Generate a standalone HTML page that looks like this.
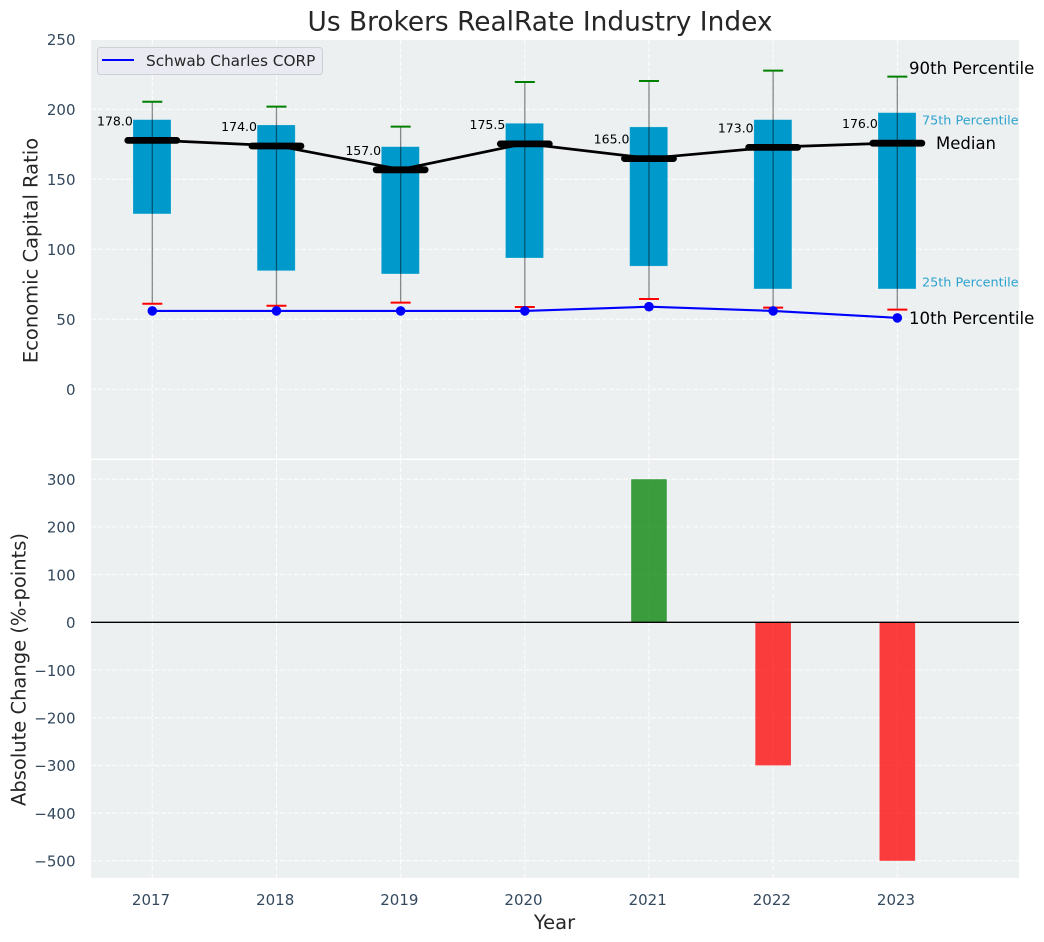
<!DOCTYPE html>
<html lang="en">
<head>
<meta charset="utf-8">
<title>Us Brokers RealRate Industry Index</title>
<style>
html,body{margin:0;padding:0;background:#fff;width:1044px;height:942px;overflow:hidden}
svg{display:block;font-family:"DejaVu Sans","Liberation Sans",sans-serif}
</style>
</head>
<body>
<svg id="chart" xmlns="http://www.w3.org/2000/svg" width="1044" height="942" viewBox="0 0 1044 942">
  <rect x="91" y="40" width="928" height="418.5" fill="#ecf0f1"/>
  <rect x="91" y="460" width="928" height="417.8" fill="#ecf0f1"/>
  <g id="grid"></g>
  <g id="ticks"></g>
  <g id="marks-top"></g>
  <g id="marks-bottom"></g>
  <text x="540" y="30.500" font-size="26.4" fill="#262626" text-anchor="middle">Us Brokers RealRate Industry Index</text>
  <text transform="translate(37.500,250.500) rotate(-90)" font-size="19.5" fill="#262626" text-anchor="middle">Economic Capital Ratio</text>
  <text transform="translate(25.500,669.500) rotate(-90)" font-size="19.5" fill="#262626" text-anchor="middle">Absolute Change (%-points)</text>
  <text x="554.500" y="929" font-size="19.5" fill="#262626" text-anchor="middle">Year</text>
  <text x="909" y="74" font-size="16.6" fill="#000">90th Percentile</text>
  <text x="922" y="124.500" font-size="12.8" fill="#2ea3cf">75th Percentile</text>
  <text x="936" y="149" font-size="16.5" fill="#000">Median</text>
  <text x="922" y="286.500" font-size="12.8" fill="#2ea3cf">25th Percentile</text>
  <text x="909" y="324" font-size="16.6" fill="#000">10th Percentile</text>
  <g>
    <rect x="97.5" y="47.5" width="225" height="27" rx="3" fill="#eaeaf2" stroke="#cfcfd6"/>
    <line x1="102" y1="60" x2="134" y2="60" stroke="#0000ff" stroke-width="2"/>
    <text x="146" y="66" font-size="15.3" fill="#262626">Schwab Charles CORP</text>
  </g>
</svg>
<script>
const years = [2017, 2018, 2019, 2020, 2021, 2022, 2023];
const p10 = [61.1, 59.7, 61.9, 58.8, 64.5, 58.3, 56.9];
const p25 = [125.3, 84.7, 82.4, 93.8, 88, 71.7, 71.7];
const median = [178, 174, 157, 175.5, 165, 173, 176];
const p75 = [192.6, 188.8, 173.3, 190, 187.4, 192.6, 197.6];
const p90 = [205.4, 201.9, 187.6, 219.5, 220.2, 227.6, 223.3];
const company = [56, 56, 56, 56, 59, 56, 51];
const change = [0, 0, 0, 0, 300, -300, -500];
const topTicks = [0, 50, 100, 150, 200, 250];
const bottomTicks = [-500, -400, -300, -200, -100, 0, 100, 200, 300];

const NS = 'http://www.w3.org/2000/svg';
const xPos = function (year) { return 152.3 + (year - 2017) * 124.17; };
const yTop = function (v) { return 389.3 - v * 1.4; };
const yBottom = function (v) { return 622.3 - v * 0.477; };

function make(parent, tag, attrs, text) {
  const el = document.createElementNS(NS, tag);
  for (const k in attrs) el.setAttribute(k, attrs[k]);
  if (text !== undefined) el.textContent = text;
  parent.appendChild(el);
  return el;
}

const grid = document.getElementById('grid');
const ticks = document.getElementById('ticks');
const marksTop = document.getElementById('marks-top');
const marksBottom = document.getElementById('marks-bottom');
const dash = { stroke: '#fff', 'stroke-width': 1, 'stroke-dasharray': '5 2', opacity: 0.9 };

years.forEach(function (year) {
  const x = xPos(year);
  const g1 = make(grid, 'line', Object.assign({ x1: x, x2: x, y1: 40, y2: 458.5 }, dash));
  
  
  const g2 = make(grid, 'line', Object.assign({ x1: x, x2: x, y1: 460, y2: 877.8 }, dash));
  
  
  const t = make(ticks, 'text', { x: x - 1.3, y: 905, 'font-size': 15, fill: '#34495e', 'text-anchor': 'middle' }, String(year));
  
  
});

topTicks.forEach(function (v) {
  const y = yTop(v);
  if (v < 250) {
    const g = make(grid, 'line', Object.assign({ x1: 91, x2: 1019, y1: y, y2: y }, dash));
    
    
  }
  const t = make(ticks, 'text', { x: 75.5, y: y + 5.8, 'font-size': 15, fill: '#34495e', 'text-anchor': 'end' }, String(v));
  
  
});

bottomTicks.forEach(function (v) {
  const y = yBottom(v);
  const g = make(grid, 'line', Object.assign({ x1: 91, x2: 1019, y1: y, y2: y }, dash));
  
  
  const label = v < 0 ? '\u2212' + Math.abs(v) : String(v);
  const t = make(ticks, 'text', { x: 75.5, y: y + 5.8, 'font-size': 15, fill: '#34495e', 'text-anchor': 'end' }, label);
  
  
});

years.forEach(function (year, i) {
  const x = xPos(year);
  const box = make(marksTop, 'rect', { x: x - 19.3, y: yTop(p75[i]), width: 38, height: yTop(p25[i]) - yTop(p75[i]), fill: '#0099cc', stroke: '#ffffff', 'stroke-opacity': 0.25, 'stroke-width': 0.8 });
  
  
});

years.forEach(function (year, i) {
  const x = xPos(year);
  const w = make(marksTop, 'line', { x1: x, x2: x, y1: yTop(p90[i]), y2: yTop(p10[i]), stroke: '#000', 'stroke-opacity': 0.45, 'stroke-width': 1.3 });
  
  
  const capHigh = make(marksTop, 'line', { x1: x - 10, x2: x + 10, y1: yTop(p90[i]), y2: yTop(p90[i]), stroke: '#008000', 'stroke-width': 2 });
  
  
  const capLow = make(marksTop, 'line', { x1: x - 10, x2: x + 10, y1: yTop(p10[i]), y2: yTop(p10[i]), stroke: '#ff0000', 'stroke-width': 2 });
  
  
});

const medianLine = make(marksTop, 'polyline', {
  points: years.map(function (y, i) { return xPos(y) + ',' + yTop(median[i]); }).join(' '),
  fill: 'none', stroke: '#000', 'stroke-width': 2.7
});



years.forEach(function (year, i) {
  const x = xPos(year);
  const y = yTop(median[i]) + 0.3;
  const m = make(marksTop, 'line', { x1: x - 24.5, x2: x + 24.5, y1: y, y2: y, stroke: '#000', 'stroke-width': 6.8, 'stroke-linecap': 'round' });
  
  
  const t = make(marksTop, 'text', { x: x - 19.5, y: y - 15, 'font-size': 12.5, fill: '#000', 'text-anchor': 'end' }, median[i].toFixed(1));
  
  
});

const companyLine = make(marksTop, 'polyline', {
  points: years.map(function (y, i) { return xPos(y) + ',' + yTop(company[i]); }).join(' '),
  fill: 'none', stroke: '#0000ff', 'stroke-width': 2.1
});



years.forEach(function (year, i) {
  const dot = make(marksTop, 'circle', { cx: xPos(year), cy: yTop(company[i]), r: 4.8, fill: '#0000ff' });
  
  
});

years.forEach(function (year, i) {
  if (change[i] === 0) return;
  const y1 = yBottom(Math.max(change[i], 0));
  const y2 = yBottom(Math.min(change[i], 0));
  const bar = make(marksBottom, 'rect', { x: xPos(year) - 17.8, y: y1, width: 35.6, height: y2 - y1, fill: change[i] > 0 ? '#008000' : '#ff0000', 'fill-opacity': 0.75 });
  
  
});

const zero = make(marksBottom, 'line', { x1: 91, x2: 1019, y1: yBottom(0), y2: yBottom(0), stroke: '#000', 'stroke-width': 1.3 });


</script>
</body>
</html>
